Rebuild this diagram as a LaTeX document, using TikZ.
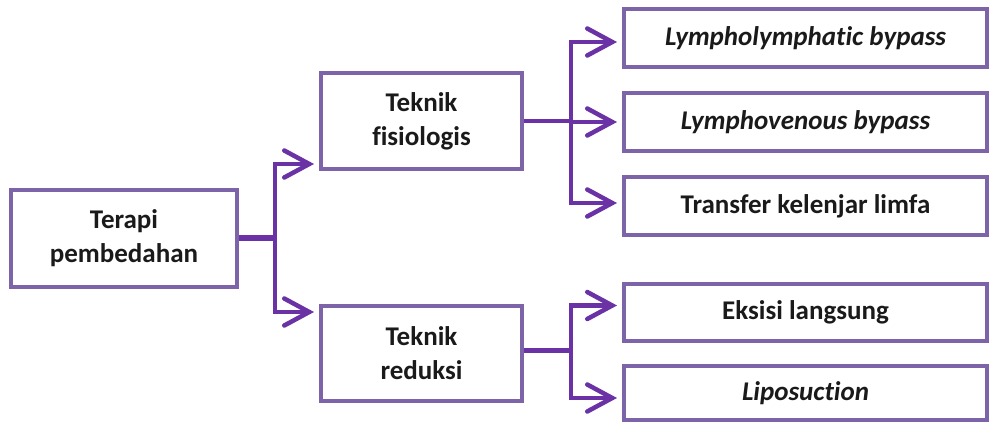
\documentclass[tikz,border=0pt]{standalone}
\usepackage{fontspec}
\setmainfont[Ligatures=CommonOff]{Carlito}
\usetikzlibrary{arrows.meta,calc}
\definecolor{boxcol}{HTML}{7D64A8}
\definecolor{linkcol}{HTML}{6A32A4}
\definecolor{txtcol}{HTML}{1A1A1A}
\tikzset{
  box/.style={draw=boxcol, line width=4pt, fill=white, inner sep=0pt,
    text=txtcol, align=center, font=\fontsize{27}{34}\selectfont\bfseries},
  link/.style={draw=linkcol, line width=4.5pt},
  arr/.style={link, -{Straight Barb[length=25pt,width=27pt,line cap=round]}, shorten >=5pt}
}
\begin{document}
\begin{tikzpicture}[x=1pt,y=-1pt]
\useasboundingbox (0,0) rectangle (992,422);
\node[box, minimum width=226pt, minimum height=97pt] (T) at (124,238) {Terapi\\pembedahan};
\node[box, minimum width=201pt, minimum height=96pt] (F) at (421.5,121) {Teknik\\fisiologis};
\node[box, minimum width=201pt, minimum height=95pt] (R) at (421.5,353.5) {Teknik\\reduksi};
\node[box, minimum width=363pt, minimum height=58pt] (L1) at (805.5,38) {\itshape Lympholymphatic bypass};
\node[box, minimum width=363pt, minimum height=58pt] (L2) at (805.5,122) {\itshape Lymphovenous bypass};
\node[box, minimum width=363pt, minimum height=58pt] (L3) at (805.5,206) {Transfer kelenjar limfa};
\node[box, minimum width=363pt, minimum height=57pt] (E) at (805.5,312.5) {Eksisi langsung};
\node[box, minimum width=363pt, minimum height=54pt] (P) at (805.5,393) {\itshape Liposuction};
% connectors from Terapi
\coordinate (tk) at ($(T.east)+(36,0)$);
\draw[link, line width=5.5pt] (T.east) -- (tk);
\draw[arr] (tk) |- ($(F.south west)+(0,-7)$);
\draw[arr] (tk) |- ($(R.north west)+(0,8)$);
% connectors from fisiologis
\coordinate (fk) at ($(F.east)+(47,0)$);
\draw[link] (F.east) -- (fk);
\draw[arr] (fk) |- ($(L1.west)+(0,4)$);
\draw[arr] (fk) |- (L2.west);
\draw[arr] (fk) |- ($(L3.west)+(0,-3)$);
% connectors from reduksi
\coordinate (rk) at ($(R.east)+(47,-3)$);
\draw[link] ($(R.east)+(0,-3)$) -- (rk);
\draw[arr] (rk) |- ($(E.west)+(0,-7)$);
\draw[arr] (rk) |- ($(P.west)+(0,5)$);
\end{tikzpicture}
\end{document}
